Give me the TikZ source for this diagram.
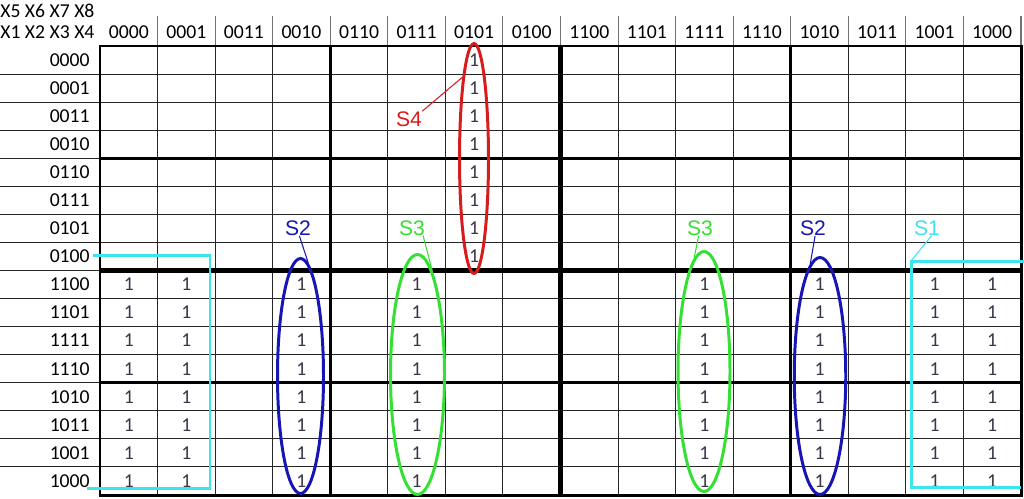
\documentclass[tikz,border=0pt]{standalone}
\usepackage{fontspec}
\setmainfont{Carlito}
\newfontfamily\tagfont{Liberation Sans}
\usetikzlibrary{shapes.geometric}

\definecolor{grpred}{RGB}{214,28,28}
\definecolor{grpblue}{RGB}{22,22,180}
\definecolor{grpgreen}{RGB}{50,225,50}
\definecolor{grpcyan}{RGB}{60,228,238}
\definecolor{onegray}{RGB}{60,52,72}

\begin{document}
\begin{tikzpicture}[x=0.02cm, y=-0.02cm,
    lab/.style={inner sep=0pt, font=\fontsize{11.2}{13}\selectfont},
    one/.style={inner sep=0pt, text=onegray, font=\fontsize{11.2}{13}\selectfont},
    grp/.style={ellipse, draw, line width=1.7pt, inner sep=0pt},
    tag/.style={inner sep=0pt, font=\tagfont\fontsize{12}{14}\selectfont},
    gridline/.style={line width=0.6pt, black!85},
    blockline/.style={line width=1.7pt},
    midline/.style={line width=2.3pt}]
    \useasboundingbox (0,0) rectangle (1024,498);
    \def\cw{57.56}
    \def\rh{28.06}

    % grid
    \foreach \j in {1,...,15}
        \draw[gridline] (0,{46+\rh*\j}) -- (1021,{46+\rh*\j});
    \foreach \i in {1,...,15}
        \draw[gridline] ({100+\cw*\i},46) -- ({100+\cw*\i},495);
    \foreach \i in {1,...,16}
        \draw[gridline, black!55] ({100+\cw*\i},16) -- ({100+\cw*\i},46);
    \foreach \k in {4,12} {
        \draw[blockline] ({100+\cw*\k},46) -- ({100+\cw*\k},495);
        \draw[blockline] (100,{46+\rh*\k}) -- (1021,{46+\rh*\k});
    }
    \draw[midline] (560.5,46) -- (560.5,495);
    \draw[midline] (100,270.5) -- (1021,270.5);
    \draw[blockline] (100,46) rectangle (1021,495);

    % labels
    \node[lab, anchor=west] (h1) at (0,11) {X5 X6 X7 X8};
    \node[lab, anchor=west] (h2) at (0,32) {X1 X2 X3 X4};
    \foreach \g [count=\i from 0] in {0000,0001,0011,0010,0110,0111,0101,0100,1100,1101,1111,1110,1010,1011,1001,1000} {
        \node[lab] (c\i) at ({100+\cw*(\i+0.5)},32) {\g};
        \node[lab, anchor=east] (r\i) at (90,{46+\rh*(\i+0.5)}) {\g};
    }

    % ones
    \foreach \i in {0,1,3,5,10,12,14,15}
        \foreach \j in {8,...,15}
            \node[one] (o\i-\j) at ({100+\cw*(\i+0.5)},{46+\rh*(\j+0.5)}) {1};
    \foreach \j in {0,...,7}
        \node[one] (o6-\j) at ({100+\cw*6.5},{46+\rh*(\j+0.5)}) {1};

    % groups
    \node[grp, draw=grpred, minimum width=0.58cm, minimum height=4.6cm] (S4) at (474,158.5) {};
    \node[grp, draw=grpblue, minimum width=0.92cm, minimum height=4.7cm] (S2a) at (300.5,376) {};
    \node[grp, draw=grpgreen, minimum width=1.08cm, minimum height=4.8cm] (S3a) at (417.5,374.5) {};
    \node[grp, draw=grpgreen, minimum width=1.04cm, minimum height=4.8cm] (S3b) at (704,371.5) {};
    \node[grp, draw=grpblue, minimum width=1.03cm, minimum height=4.74cm] (S2b) at (820,376) {};
    \draw[grpcyan, line width=1.7pt] (93,255) -- (210,255) -- (210,488) -- (87,488);
    \coordinate (S1) at (911,261);
    \draw[grpcyan, line width=1.7pt] (1024,261) -- (S1) -- (911,487) -- (1021,487);

    \node[tag, text=grpred] (S4lab) at (409,119) {S4};
    \node[tag, text=grpblue] (S2alab) at (298,228) {S2};
    \node[tag, text=grpgreen] (S3alab) at (412,228) {S3};
    \node[tag, text=grpgreen] (S3blab) at (700,228) {S3};
    \node[tag, text=grpblue] (S2blab) at (813,228) {S2};
    \node[tag, text=grpcyan] (S1lab) at (927,228) {S1};

    \draw[grpred, line width=0.6pt] (S4lab.north east) -- (S4.98);
    \draw[grpblue, line width=0.6pt] (S2alab.-80) -- (S2a.86);
    \draw[grpgreen, line width=0.6pt] (S3alab.-35) -- (S3a.82);
    \draw[grpgreen, line width=0.6pt] (S3blab.-100) -- (S3b.95);
    \draw[grpblue, line width=0.6pt] (S2blab.-75) -- (S2b.95);
    \draw[grpcyan, line width=0.6pt] (S1lab.-60) -- (S1);
\end{tikzpicture}
\end{document}
